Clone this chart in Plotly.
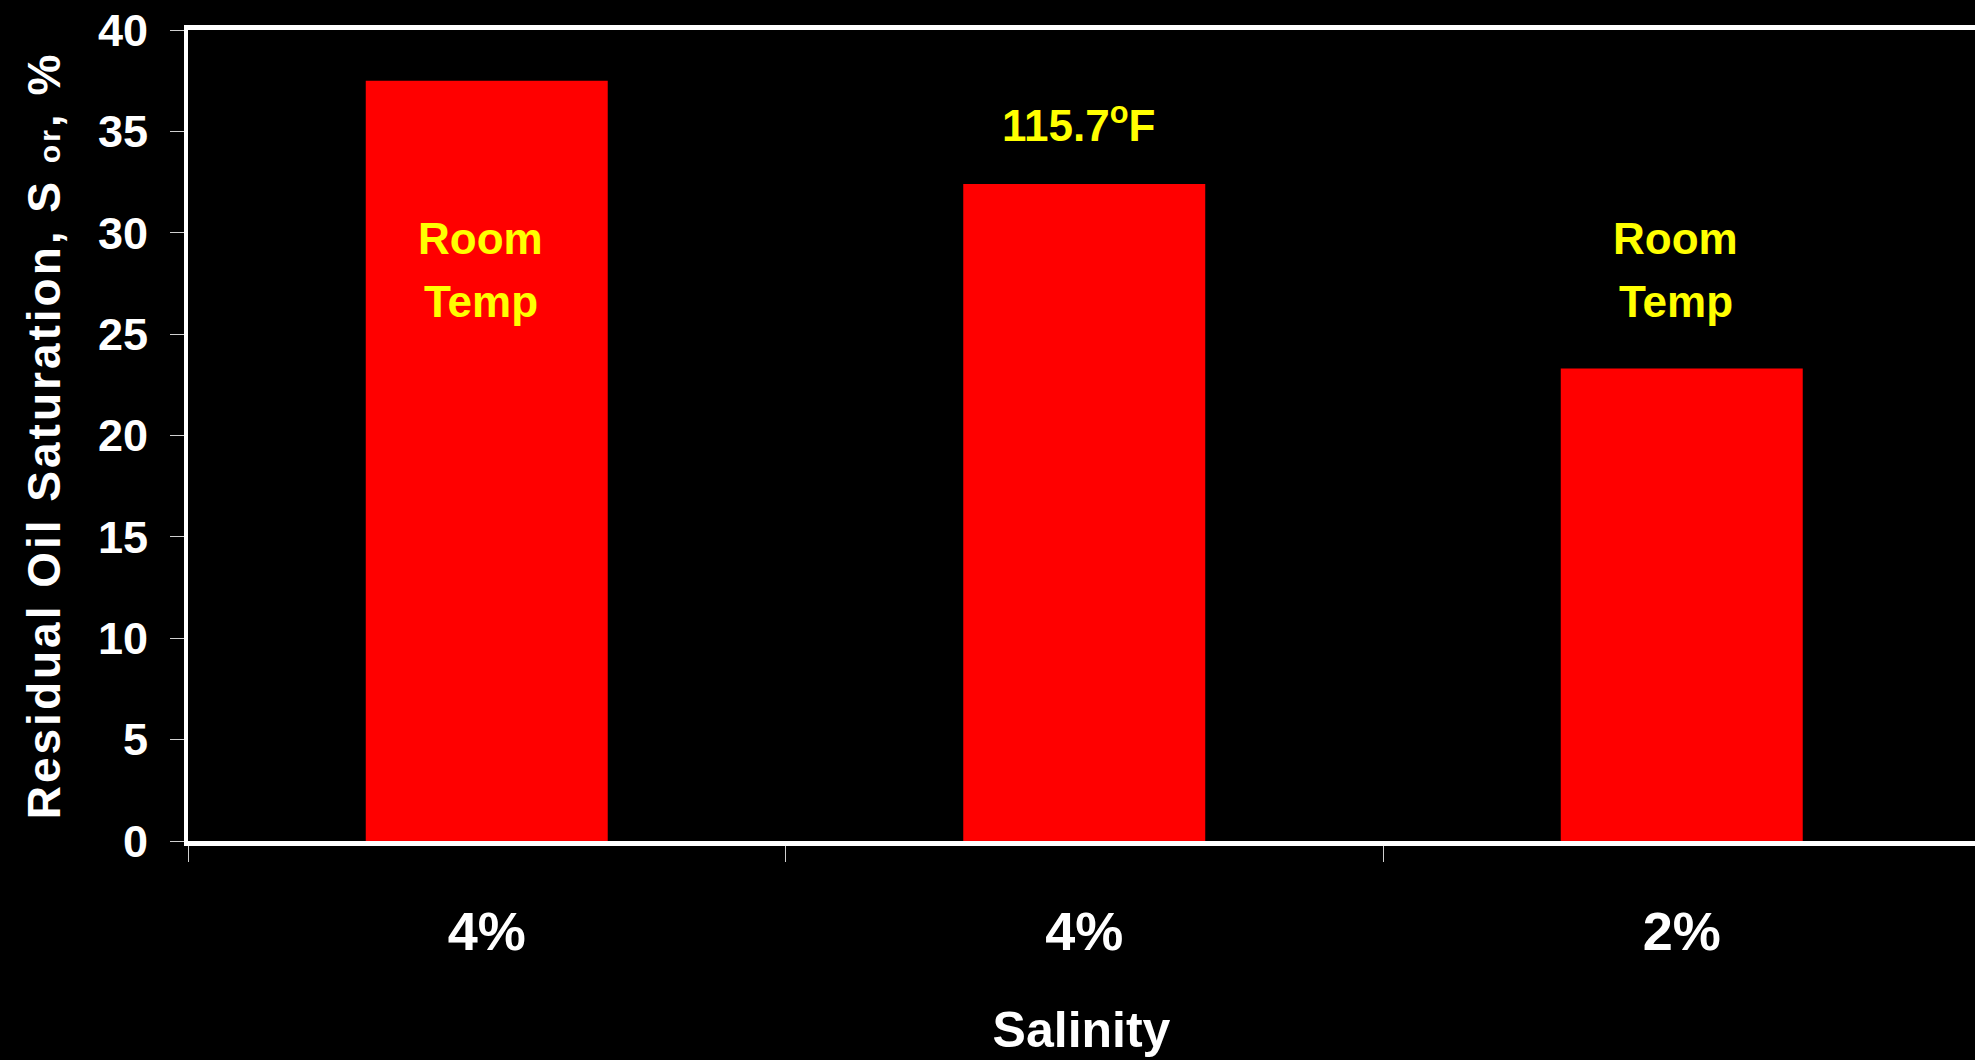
import plotly.graph_objects as go

# Core-flood runs: residual oil saturation after waterflooding
runs = ["4% brine, room temp", "4% brine, 115.7°F", "2% brine, room temp"]
salinity_labels = ["4%", "4%", "2%"]
residual_oil = [37.5, 32.4, 23.3]
temperature_notes = [["Room", "Temp"], ["115.7<sup>o</sup>F"], ["Room", "Temp"]]
y_ticks = [0, 5, 10, 15, 20, 25, 30, 35, 40]

FONT = "Liberation Sans, Arial, sans-serif"
RED = "#FF0000"
YELLOW = "#FFFF00"
WHITE = "#FFFFFF"

fig = go.Figure(
    go.Bar(
        x=runs,
        y=residual_oil,
        width=0.405,
        marker=dict(color=RED, line=dict(width=0)),
        hoverinfo="skip",
    )
)

# Temperature notes: inside the room-temperature bars, above the heated one.
# Each line is placed separately so the line spacing can be set freely.
note_y = [29.7, 35.45, 29.7]
LINE_STEP = 63  # px between note lines
for run, lines, ny in zip(runs, temperature_notes, note_y):
    for i, line in enumerate(lines):
        fig.add_annotation(
            x=run, y=ny, xref="x", yref="y",
            text=line, showarrow=False,
            xanchor="center", yanchor="middle",
            xshift=-6, yshift=-i * LINE_STEP,
            font=dict(family=FONT, size=44, color=YELLOW, weight="bold"),
        )

fig.update_layout(
    width=1975,
    height=1060,
    paper_bgcolor="#000000",
    plot_bgcolor="#000000",
    margin=dict(l=188, r=0, t=30, b=219, pad=0),
    showlegend=False,
    font=dict(family=FONT, color=WHITE),
    bargap=0.6,
)

fig.update_xaxes(
    type="category",
    range=[-0.5, 2.4908],
    tickmode="array",
    tickvals=runs,
    ticktext=salinity_labels,
    tickson="boundaries",
    ticks="outside",
    ticklen=16,
    tickwidth=1,
    tickcolor="#d0d0d0",
    showline=True,
    linecolor=WHITE,
    linewidth=5,
    mirror=True,
    showgrid=False,
    zeroline=False,
    tickfont=dict(family=FONT, size=54, color=WHITE, weight="bold"),
    ticklabelstandoff=39,
    title=dict(
        text="Salinity",
        font=dict(family=FONT, size=50, color=WHITE, weight="bold"),
        standoff=54,
    ),
)

fig.update_yaxes(
    range=[0, 40],
    tickmode="array",
    tickvals=y_ticks,
    ticks="outside",
    ticklen=14,
    tickwidth=1,
    tickcolor="#d0d0d0",
    showline=True,
    linecolor=WHITE,
    linewidth=4,
    showgrid=False,
    zeroline=False,
    tickfont=dict(family=FONT, size=45, color=WHITE, weight="bold"),
    ticklabelstandoff=13,
    title=dict(
        text='<span style="letter-spacing:3px">Residual Oil Saturation, S '
             '<span style="font-size:30px">or</span>, %</span>',
        font=dict(family=FONT, size=46, color=WHITE, weight="bold"),
        standoff=24,
    ),
)

fig.write_html("out.html")
